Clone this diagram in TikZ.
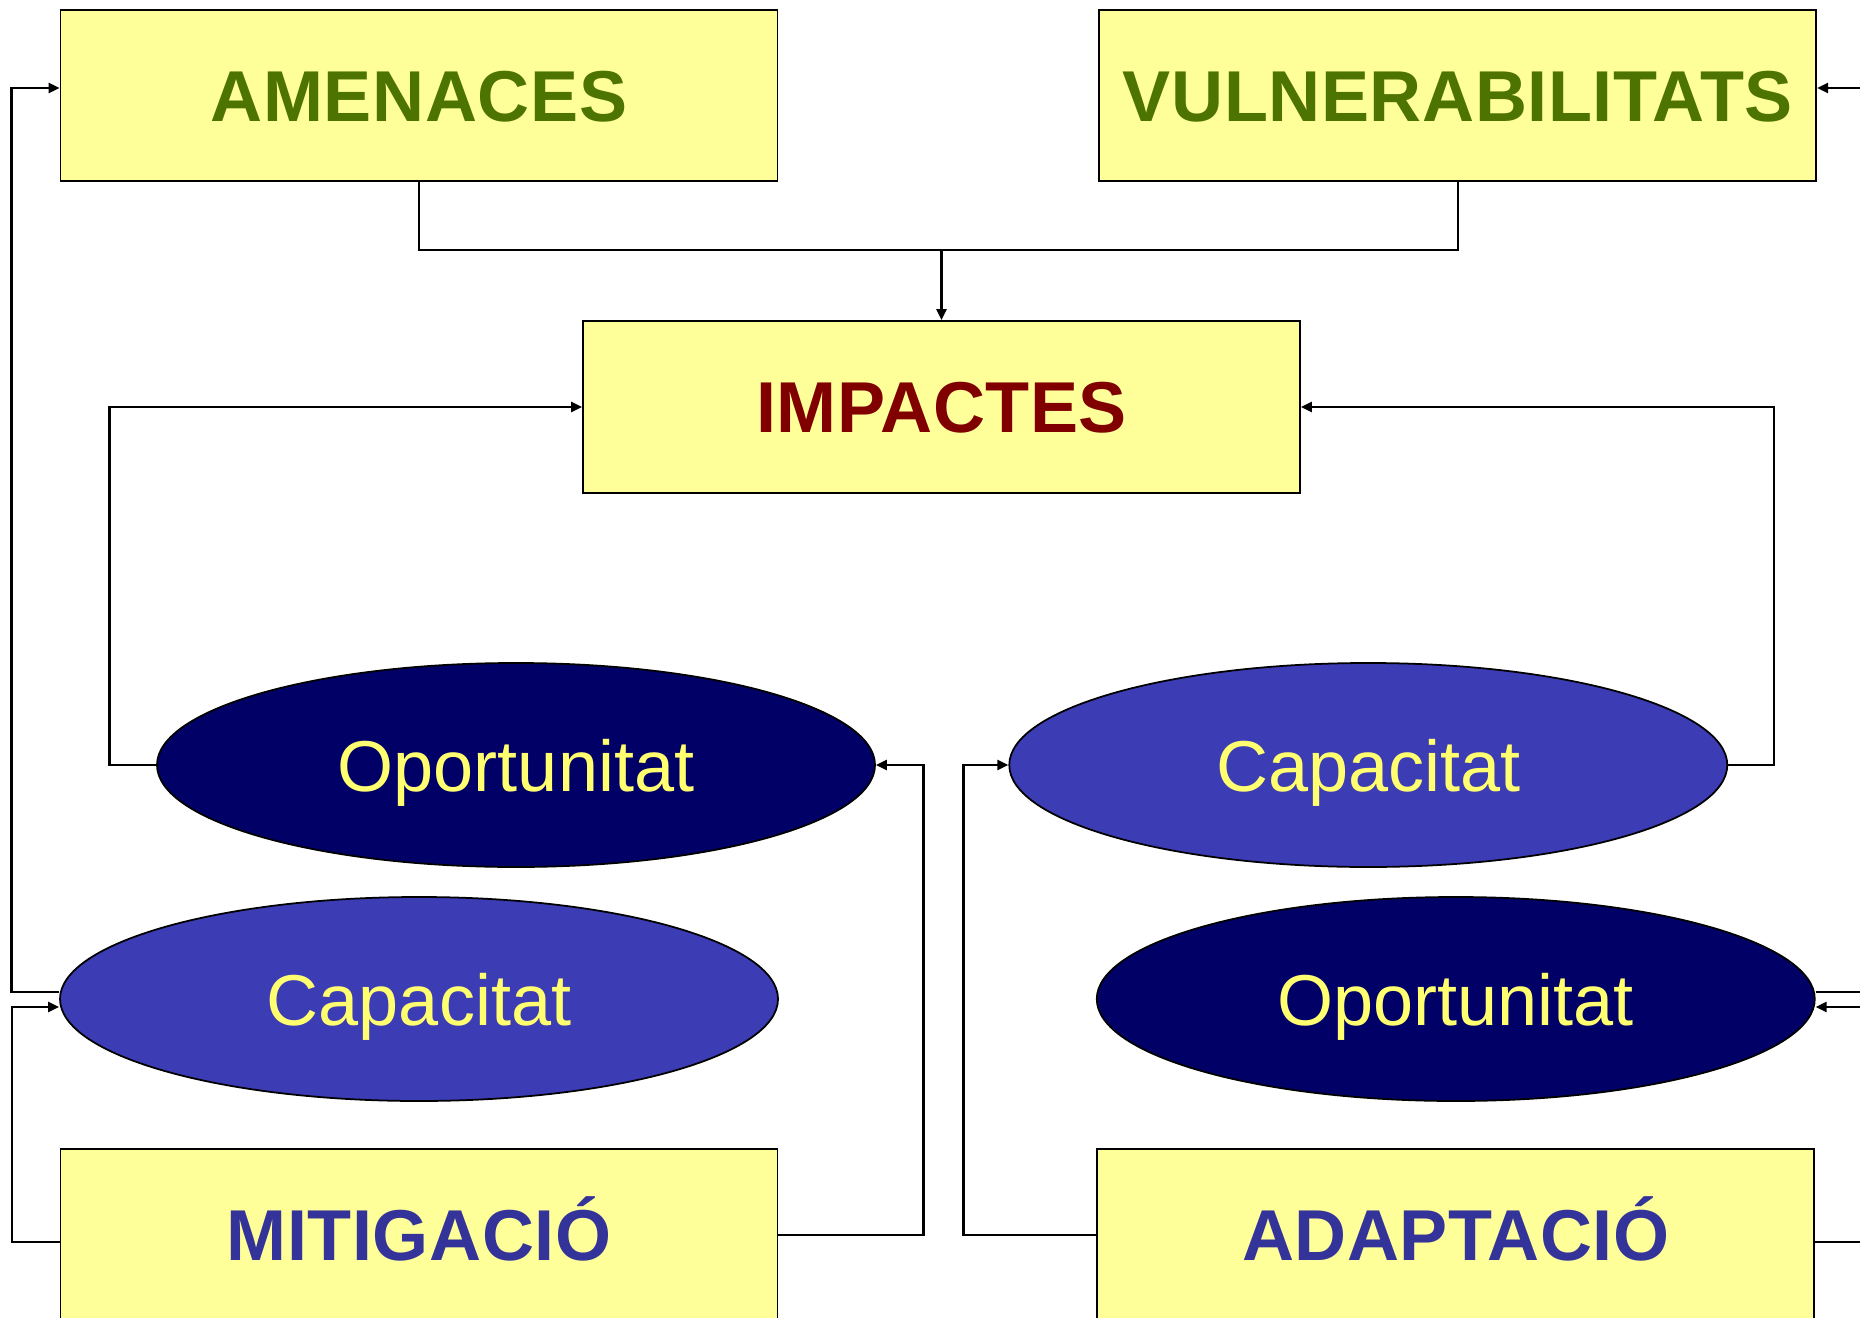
\documentclass[tikz,border=0pt]{standalone}
\usepackage{fontspec}
\setmainfont{Liberation Sans}
\usepackage{xcolor}
\usetikzlibrary{shapes.geometric, arrows.meta, positioning, calc}

\definecolor{boxyellow}{HTML}{FFFF99}
\definecolor{textyellow}{HTML}{FFFF70}
\definecolor{leafgreen}{HTML}{4D7300}
\definecolor{darkred}{HTML}{800000}
\definecolor{navyblue}{HTML}{000066}
\definecolor{midblue}{HTML}{3C3CB4}
\definecolor{inkblue}{HTML}{333399}

\begin{document}
\begin{tikzpicture}[
    box/.style={rectangle, draw, line width=0.5pt, fill=boxyellow, minimum width=7.17cm, minimum height=1.71cm, inner sep=0pt, text height=0.52cm, text depth=0pt, font=\fontsize{20.5}{24}\selectfont\bfseries\addfontfeature{LetterSpace=0.8}},
    oval/.style={ellipse, draw, line width=0.5pt, minimum width=7.18cm, minimum height=2.04cm, inner sep=0pt, text=textyellow, text height=0.52cm, text depth=0pt, font=\fontsize{20.5}{24}\selectfont},
    arrow/.style={-{Triangle[length=0.11cm,width=0.1cm]}, line width=0.65pt},
    link/.style={line width=0.65pt}
]

\useasboundingbox (0,0) rectangle (18.6,-13.17);
\clip (0,0) rectangle (18.6,-13.17);

% Causes
\node[box, text=leafgreen] (amen) at (4.19,-0.955) {AMENACES};
\node[box, text=leafgreen, right=3.2cm of amen] (vuln) {VULNERABILITATS};

% Impacts
\node[box, text=darkred, minimum height=1.72cm] (imp) at (9.415,-4.07) {IMPACTES};

% Upper ellipses
\node[oval, fill=navyblue] (opp1) at (5.16,-7.65) {Oportunitat};
\node[oval, fill=midblue, right=1.325cm of opp1] (cap1) {Capacitat};

% Lower ellipses
\node[oval, fill=midblue] (cap2) at (4.19,-9.99) {Capacitat};

% Responses
\node[box, text=inkblue, minimum height=1.72cm, below=0.46cm of cap2] (mitig) {MITIGACIÓ};
\node[box, text=inkblue, minimum height=1.72cm, right=3.18cm of mitig] (adapt) {ADAPTACIÓ};
\node[oval, fill=navyblue, above=0.46cm of adapt] (opp2) {Oportunitat};

\coordinate (join) at (9.415,-2.5);

% Arrows
\draw[link] (amen.south) |- (join) -| (vuln.south);
\draw[arrow] (join) -- (imp.north);
\draw[arrow] (opp1.west) -- ++(-0.465,0) |- (imp.west);
\draw[arrow] (cap1.east) -- ++(0.46,0) |- (imp.east);
\draw[arrow] ([yshift=0.07cm]cap2.west) -- ++(-0.475,0) |- ([yshift=0.075cm]amen.west);
\draw[arrow] ([yshift=-0.07cm]mitig.west) -- ++(-0.475,0) |- ([yshift=-0.08cm]cap2.west);
\draw[arrow] (mitig.east) -- ++(1.45,0) |- (opp1.east);
\draw[arrow] (adapt.west) -- ++(-1.33,0) |- (cap1.west);
\draw[arrow] ([yshift=0.07cm]opp2.east) -- ++(0.9,0) |- ([yshift=0.075cm]vuln.east);
\draw[arrow] ([yshift=-0.07cm]adapt.east) -- ++(0.9,0) |- ([yshift=-0.08cm]opp2.east);

\end{tikzpicture}
\end{document}
